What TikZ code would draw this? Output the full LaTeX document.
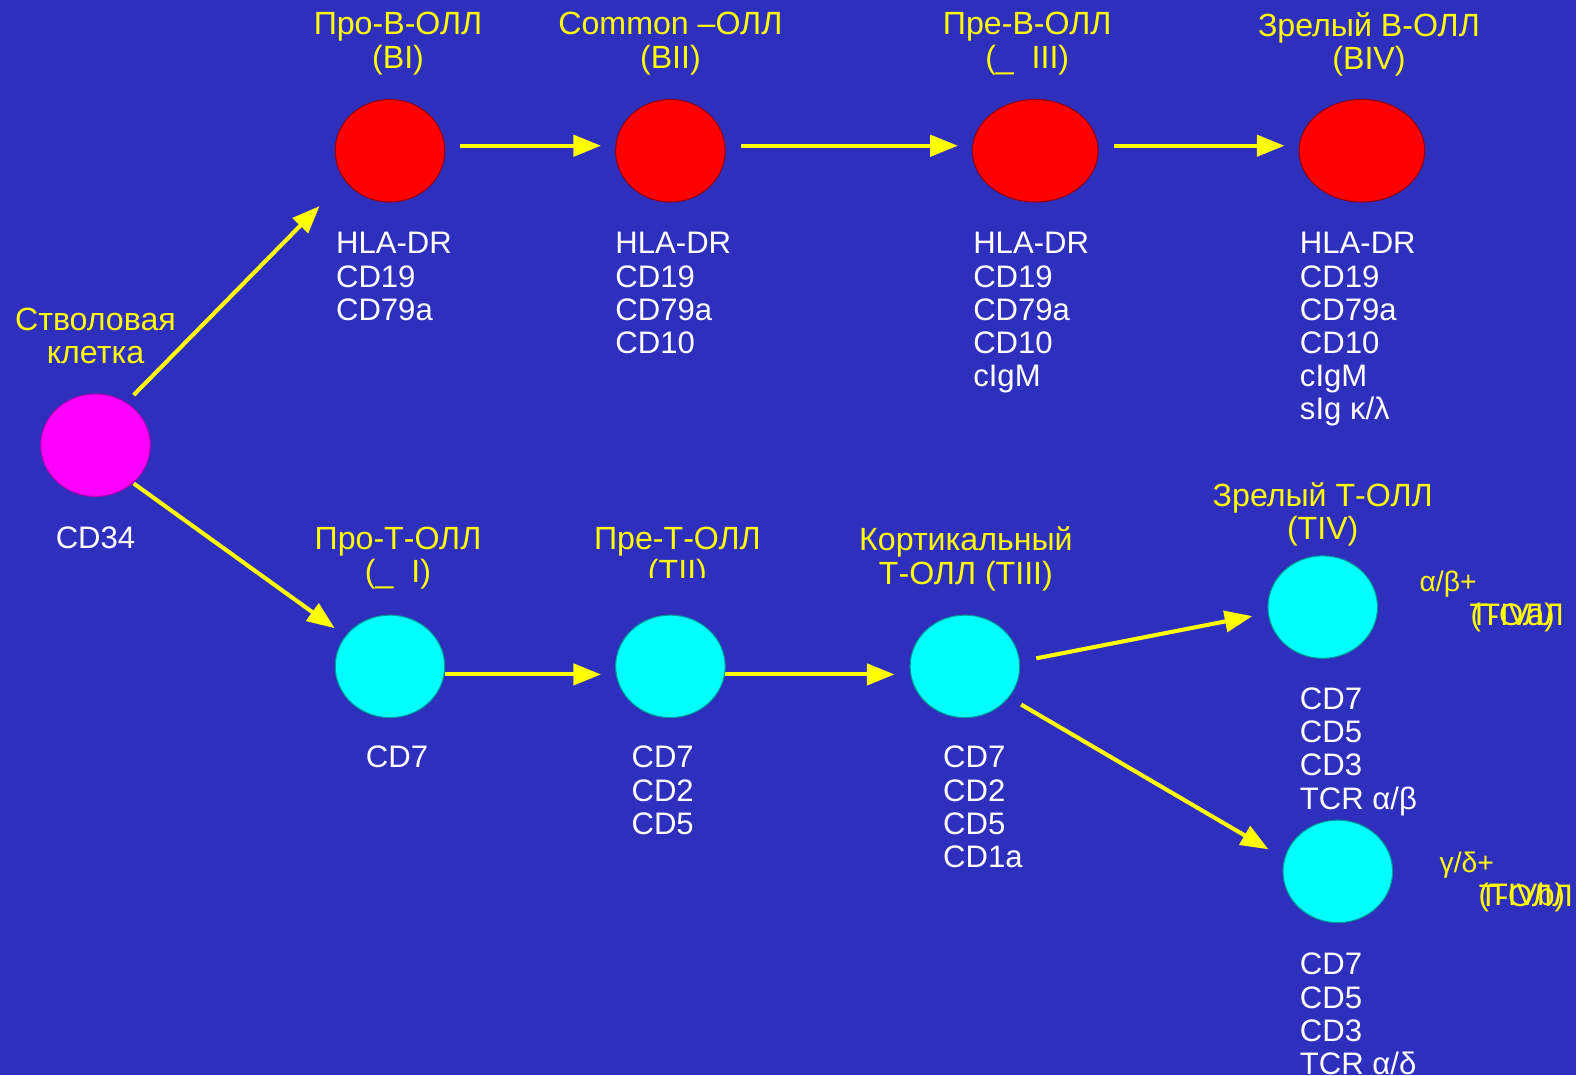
\documentclass[tikz,border=0pt]{standalone}
\usepackage{fontspec}
\setmainfont{Liberation Sans}
\usetikzlibrary{arrows.meta,shapes.geometric}
\definecolor{slideBlue}{RGB}{47,47,189}
\definecolor{markYellow}{RGB}{255,255,0}
\definecolor{stemPink}{RGB}{255,0,255}
\definecolor{bRed}{RGB}{255,0,0}
\definecolor{tCyan}{RGB}{0,255,255}

\begin{document}
\begin{tikzpicture}[x=0.02cm,y=-0.02cm]
    \tikzstyle{every node} = [font=\fontsize{17.6}{18.8}\selectfont, inner sep=0pt]
    \tikzstyle{cell} = [ellipse, draw, line width=0.6pt, minimum width=2.18cm, minimum height=2.04cm]
    \tikzstyle{bigcell} = [cell, minimum width=2.5cm]
    \tikzstyle{title} = [text=markYellow, align=center, anchor=north, font=\fontsize{18.2}{18.8}\selectfont]
    \tikzstyle{markers} = [text=white, align=left, anchor=north west]
    \tikzstyle{greek} = [text=markYellow, font=\fontsize{16}{17}\selectfont, anchor=west]
    \tikzstyle{arr} = [-{Triangle[length=0.55cm,width=0.42cm]}, markYellow, line width=2.3pt]

    \fill[slideBlue] (0,0) rectangle (1568,1070);
    \useasboundingbox (0,0) rectangle (1568,1070);

    % place nodes
    \node[cell, fill=stemPink, draw=stemPink!70!black](stemCell) at (95,443){};
    \node[cell, fill=bRed, draw=bRed!60!black](proB) at (388,150){};
    \node[cell, fill=bRed, draw=bRed!60!black](commonB) at (667,150){};
    \node[bigcell, fill=bRed, draw=bRed!60!black](preB) at (1030,150){};
    \node[bigcell, fill=bRed, draw=bRed!60!black](matureB) at (1355,150){};
    \node[cell, fill=tCyan, draw=tCyan!60!black](proT) at (388,663){};
    \node[cell, fill=tCyan, draw=tCyan!60!black](preT) at (667,663){};
    \node[cell, fill=tCyan, draw=tCyan!60!black](corticalT) at (960,663){};
    \node[cell, fill=tCyan, draw=tCyan!60!black](matureTab) at (1316,604){};
    \node[cell, fill=tCyan, draw=tCyan!60!black](matureTgd) at (1331,867){};

    % titles
    \node[title](stemTitle) at (95,306){Стволовая\\клетка};
    \node[title](proBTitle) at (396,12){Про-В-ОЛЛ\\(BI)};
    \node[title](commonBTitle) at (667,12){Common –ОЛЛ\\(BII)};
    \node[title](preBTitle) at (1022,12){Пре-В-ОЛЛ\\(\_\ \ III)};
    \node[title](matureBTitle) at (1362,12){Зрелый В-ОЛЛ\\(BIV)};
    \node[title](proTTitle) at (396,524){Про-Т-ОЛЛ\\(\_\ \ I)};
    \begin{scope}
      \clip (560,500) rectangle (800,575);
      \node[title](preTTitle) at (674,524){Пре-Т-ОЛЛ\\(TII)};
    \end{scope}
    \node[title](corticalTTitle) at (961,524){Кортикальный\\Т-ОЛЛ (TIII)};
    \node[title](matureTTitle) at (1316,480){Зрелый Т-ОЛЛ\\(TIV)};
    \node[greek](abPlus) at (1412,581){α/β+};
    \node[text=markYellow](abName) at (1509,612){Т-ОЛЛ};
    \node[text=markYellow](abCode) at (1505,614){(TIVa)};
    \node[greek](gdPlus) at (1432,861){γ/δ+};
    \node[text=markYellow](gdName) at (1518,891){Т-ОЛЛ};
    \node[text=markYellow](gdCode) at (1514,893){(TIVb)};

    % markers
    \node[text=white, anchor=north](stemMarkers) at (95,524){CD34};
    \node[markers](proBMarkers) at (334,231){HLA-DR\\CD19\\CD79a};
    \node[markers](commonBMarkers) at (612,231){HLA-DR\\CD19\\CD79a\\CD10};
    \node[markers](preBMarkers) at (968,231){HLA-DR\\CD19\\CD79a\\CD10\\cIgM};
    \node[markers](matureBMarkers) at (1293,231){HLA-DR\\CD19\\CD79a\\CD10\\cIgM\\sIg κ/λ};
    \node[text=white, anchor=north](proTMarkers) at (395,742){CD7};
    \node[markers](preTMarkers) at (628,742){CD7\\CD2\\CD5};
    \node[markers](corticalTMarkers) at (938,742){CD7\\CD2\\CD5\\CD1a};
    \node[markers](matureTabMarkers) at (1293,684){CD7\\CD5\\CD3\\TCR α/β};
    \node[markers](matureTgdMarkers) at (1293,948){CD7\\CD5\\CD3\\TCR α/δ};

    % Connections
    \draw[arr] ([shift={(38,-50)}]stemCell.center)--([shift={(-70,55)}]proB.center);
    \draw[arr] ([shift={(38,38)}]stemCell.center)--([shift={(-55,-38)}]proT.center);
    \draw[arr] ([shift={(70,-5)}]proB.center)--([shift={(-69,-5)}]commonB.center);
    \draw[arr] ([shift={(70,-5)}]commonB.center)--([shift={(-77,-5)}]preB.center);
    \draw[arr] ([shift={(78,-5)}]preB.center)--([shift={(-77,-5)}]matureB.center);
    \draw[arr] ([shift={(55,8)}]proT.center)--([shift={(-69,8)}]preT.center);
    \draw[arr] ([shift={(54,8)}]preT.center)--([shift={(-70,8)}]corticalT.center);
    \draw[arr] ([shift={(71,-8)}]corticalT.center)--([shift={(-70,9)}]matureTab.center);
    \draw[arr] ([shift={(56,38)}]corticalT.center)--([shift={(-69,-22)}]matureTgd.center);

\end{tikzpicture}
\end{document}
